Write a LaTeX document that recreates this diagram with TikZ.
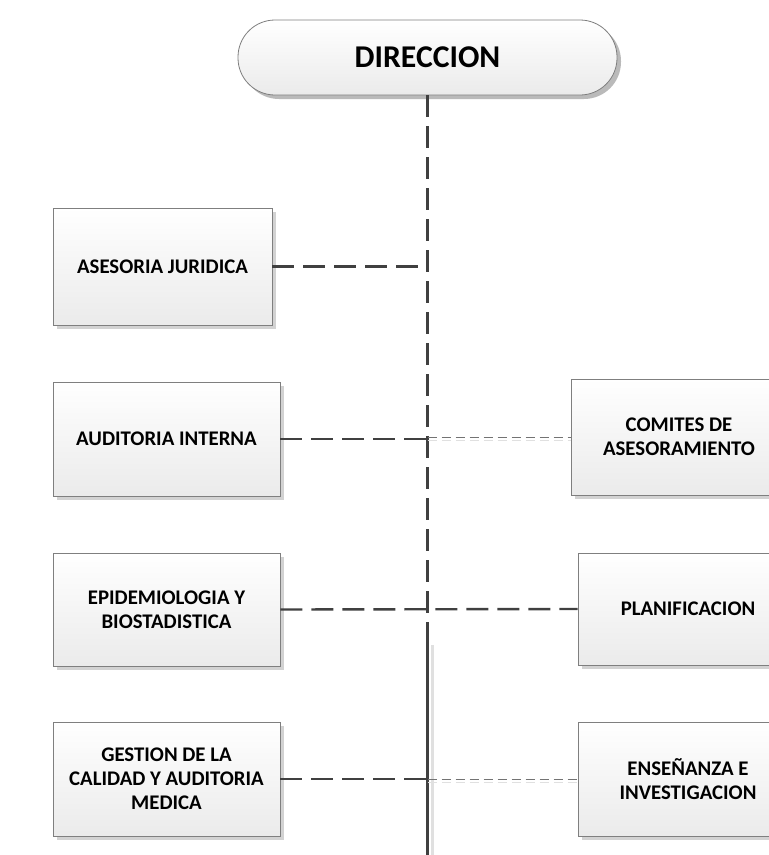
\documentclass[tikz,border=0pt]{standalone}
\usepackage{fontspec}
\setmainfont{Carlito}
\usetikzlibrary{shadows}

\definecolor{linegray}{HTML}{404040}
\definecolor{boxline}{HTML}{7F7F7F}

\tikzset{
  unitbox/.style={draw=boxline, line width=0.8pt, top color=white, bottom color=black!8,
    drop shadow={shadow xshift=4pt, shadow yshift=-4pt, fill=black!35, opacity=0.5},
    align=center, font=\fontsize{20.8}{24}\selectfont\bfseries, inner sep=0pt},
  headbox/.style={draw=boxline, line width=0.8pt, top color=white, bottom color=black!8,
    rounded corners=37pt, minimum width=379pt, minimum height=75pt,
    drop shadow={shadow xshift=4pt, shadow yshift=-4pt, fill=black!45, opacity=0.6},
    font=\fontsize{31.7}{36}\selectfont\bfseries},
  thickdash/.style={draw=linegray, line width=2.4pt, dash pattern=on 22pt off 9pt},
  thindash/.style={draw=black!55, line width=0.8pt, dash pattern=on 9pt off 5pt},
}

\begin{document}
\begin{tikzpicture}[x=1pt,y=-1pt]
\useasboundingbox (0,0) rectangle (769,855);

\node[headbox] (dir) at (427.5,57.5) {DIRECCION};

\node[unitbox, minimum width=219pt, minimum height=117pt] (jur) at (162.5,266.5) {ASESORIA JURIDICA};
\node[unitbox, minimum width=227pt, minimum height=114pt] (aud) at (166.5,439) {AUDITORIA INTERNA};
\node[unitbox, minimum width=227pt, minimum height=113pt] (epi) at (166.5,609.5) {EPIDEMIOLOGIA Y\\BIOSTADISTICA};
\node[unitbox, minimum width=227pt, minimum height=114pt] (cal) at (166.5,779) {GESTION DE LA\\CALIDAD Y AUDITORIA\\MEDICA};

\node[unitbox, minimum width=216pt, minimum height=116pt] (com) at (679,437) {COMITES DE\\ASESORAMIENTO};
\node[unitbox, minimum width=220pt, minimum height=112pt] (pla) at (688,609) {PLANIFICACION};
\node[unitbox, minimum width=220pt, minimum height=114pt] (ens) at (688,779) {ENSEÑANZA E\\INVESTIGACION};

\coordinate (split) at (427.5,639);
\coordinate (bot) at (427.5,855);

% linea principal
\draw[black!12, line width=2.4pt] ([xshift=5pt,yshift=-6pt]split) -- ([xshift=5pt]bot);
\draw[thickdash] (dir.south) -- (split);
\draw[draw=linegray, line width=2.4pt] (split) -- (bot);

% unidades de apoyo
\draw[thickdash] (jur.east) -- (jur.east -| dir.south);
\draw[thickdash] (aud.east) -- (aud.east -| dir.south);
\draw[thickdash] (epi.east) -- (pla.west);
\draw[thickdash] (cal.east) -- (cal.east -| dir.south);

\draw[black!12, line width=0.8pt, dash pattern=on 9pt off 5pt] ([yshift=-3pt]com.west -| dir.south) -- ([yshift=-3pt]com.west);
\draw[thindash] (com.west -| dir.south) -- (com.west);
\draw[black!12, line width=0.8pt, dash pattern=on 9pt off 5pt] ([yshift=-3pt]ens.west -| dir.south) -- ([yshift=-3pt]ens.west);
\draw[thindash] (ens.west -| dir.south) -- (ens.west);

\end{tikzpicture}
\end{document}
